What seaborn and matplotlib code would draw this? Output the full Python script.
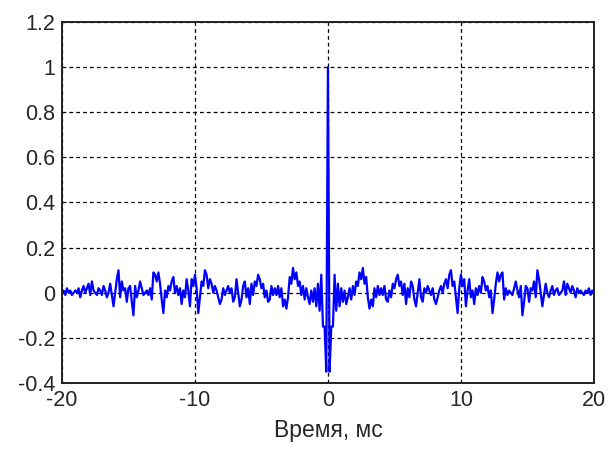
import numpy as np
import pandas as pd
import matplotlib
matplotlib.use('Agg')
import matplotlib.pyplot as plt
import seaborn as sns

# шаг по времени, мс (8 кГц)
dt = 0.125

# правая половина АКФ (t > 0), по 8 отсчётов на 1 мс; левая - зеркальная
right_half = [
    -0.35, -0.15, -0.15, 0.08, -0.08, 0.04, -0.06, 0.02,   # 0-1
    -0.04, 0.01, -0.05, -0.02, 0.02, -0.03, 0.03, -0.01,   # 1-2
    0.05, 0.03, 0.09, 0.06, 0.11, 0.04, 0.07, -0.02,       # 2-3
    -0.07, -0.03, -0.06, 0.02, -0.02, 0.03, -0.01, 0.02,   # 3-4
    -0.01, 0.03, -0.03, -0.04, 0.01, -0.02, 0.04, 0.02,    # 4-5
    0.06, 0.08, 0.03, 0.05, -0.01, 0.04, -0.05, 0.02,      # 5-6
    -0.02, 0.05, 0.03, -0.03, -0.06, 0.0, 0.06, -0.02,     # 6-7
    -0.04, 0.02, 0.0, 0.03, 0.01, -0.01, 0.02, -0.03,      # 7-8
    -0.05, -0.02, 0.01, 0.03, 0.0, 0.04, 0.06, 0.02,       # 8-9
    0.08, 0.1, 0.03, 0.05, -0.02, -0.09, 0.02, 0.08,       # 9-10
    0.03, 0.06, -0.06, 0.01, 0.06, -0.02, 0.01, -0.05,     # 10-11
    0.02, -0.01, 0.03, 0.0, 0.07, 0.05, 0.01, 0.03,        # 11-12
    -0.02, 0.01, -0.09, -0.03, 0.04, 0.09, 0.05, 0.08,     # 12-13
    0.09, -0.03, 0.02, -0.01, 0.01, 0.0, -0.01, 0.02,      # 13-14
    0.05, 0.01, -0.02, 0.03, -0.1, -0.04, 0.03, 0.02,      # 14-15
    -0.04, 0.02, 0.01, 0.05, -0.02, 0.1, 0.06, 0.0,        # 15-16
    -0.06, -0.01, 0.04, 0.0, -0.02, 0.01, 0.03, -0.01,     # 16-17
    0.01, 0.02, -0.01, 0.0, 0.01, 0.05, -0.01, 0.04,       # 17-18
    0.02, 0.0, 0.03, 0.01, -0.02, 0.02, 0.0, 0.01,         # 18-19
    0.0, -0.01, 0.01, 0.0, 0.02, -0.01, 0.01, 0.0,         # 19-20
]
peak = 1.0

xticks = [-20, -10, 0, 10, 20]
yticks = [-0.4, -0.2, 0, 0.2, 0.4, 0.6, 0.8, 1, 1.2]
ytick_labels = ['-0.4', '-0.2', '0', '0.2', '0.4', '0.6', '0.8', '1', '1.2']

r = np.array(right_half)
vals = np.concatenate([r[::-1], [peak], r])
n = len(right_half)
t = np.arange(-n, n + 1) * dt
df = pd.DataFrame({'t': t, 'r': vals})

sns.set_style('white')
plt.rcParams['font.family'] = ['Liberation Sans', 'DejaVu Sans']

fig = plt.figure(figsize=(6.1, 4.53), dpi=100)
ax = fig.add_axes([0.1016, 0.1545, 0.872, 0.797])

sns.lineplot(data=df, x='t', y='r', color='#0000ff', linewidth=1.6, ax=ax)

ax.set_xlim(-20, 20)
ax.set_ylim(-0.4, 1.2)
ax.set_xticks(xticks)
ax.set_xticklabels([str(v) for v in xticks])
ax.set_yticks(yticks)
ax.set_yticklabels(ytick_labels)
ax.grid(True, color='black', linestyle=(0, (3, 2.5)), linewidth=0.9)
ax.tick_params(direction='in', length=4, labelsize=15.5, color='black', pad=5)
for s in ax.spines.values():
    s.set_color('#222222')
    s.set_linewidth(1.4)
ax.set_xlabel('Время, мс', fontsize=16.5, labelpad=6)
ax.set_ylabel('')

fig.savefig('out.png', dpi=100)
